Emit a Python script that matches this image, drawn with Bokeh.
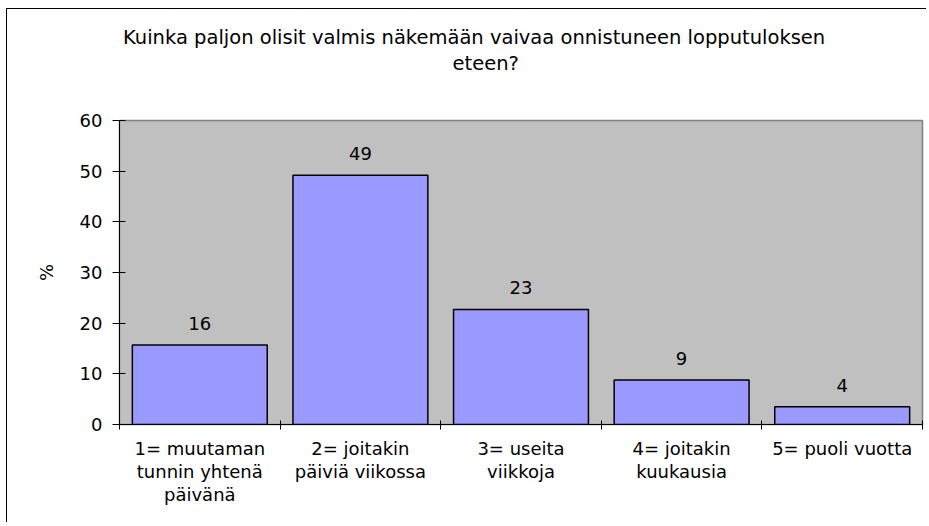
from bokeh.plotting import figure
from bokeh.models import LinearAxis, FixedTicker, Range1d, LabelSet, ColumnDataSource, Title
from bokeh.core.properties import value
from bokeh.embed import file_html
from bokeh.resources import INLINE

title_line1 = "Kuinka paljon olisit valmis näkemään vaivaa onnistuneen lopputuloksen"
title_line2 = "eteen?"
categories = [
    "1= muutaman\ntunnin yhtenä\npäivänä",
    "2= joitakin\npäiviä viikossa",
    "3= useita\nviikkoja",
    "4= joitakin\nkuukausia",
    "5= puoli vuotta",
]
values = [15.7, 49.2, 22.7, 8.8, 3.5]
value_labels = ["16", "49", "23", "9", "4"]
y_ticks = [0, 10, 20, 30, 40, 50, 60]
y_label = "%"

FONT = "DejaVu Sans"
FS = "18px"
TFS = "19.5px"

xpos = [i + 0.5 for i in range(len(categories))]
src = ColumnDataSource(dict(x=xpos, top=values, label=value_labels))

p = figure(
    x_range=Range1d(0, len(categories)),
    y_range=Range1d(y_ticks[0], y_ticks[-1]),
    frame_width=803, frame_height=304,
    min_border_left=112, min_border_top=111, min_border_right=4, min_border_bottom=98,
    x_axis_type=None, y_axis_type=None,
    output_backend="svg", toolbar_location=None,
    background_fill_color="#C0C0C0", border_fill_color="white",
    outline_line_color="#808080", outline_line_width=1.5,
    styles={"border-left": "1px solid black", "border-top": "1px solid black",
            "margin-left": "6px", "margin-top": "8px"},
)

p.title.text = title_line1
p.title.text_font = FONT
p.title.text_font_size = TFS
p.title.text_font_style = "normal"
p.title.text_color = "black"
p.title.align = "left"
p.title.offset = 3.5
p.title.standoff = 2

# spacer between the plot frame and the title lines
p.add_layout(Title(text=" ", standoff=43, text_font_size="1px"), "above")
p.add_layout(Title(text=title_line2, align="left", offset=333, standoff=0,
                   text_font=FONT, text_font_size=TFS, text_font_style="normal",
                   text_color="black"), "above")

yaxis = LinearAxis(
    ticker=FixedTicker(ticks=y_ticks),
    axis_label=y_label, axis_label_text_font=FONT, axis_label_text_font_size=FS,
    axis_label_text_font_style="normal", axis_label_standoff=20,
    axis_label_text_color="black",
    major_label_text_font=FONT, major_label_text_font_size=FS, major_label_standoff=10,
    major_label_text_color="black",
    major_tick_in=6, major_tick_out=7, minor_tick_in=0, minor_tick_out=0,
    axis_line_color="black", major_tick_line_color="black",
)
p.add_layout(yaxis, "left")

xaxis = LinearAxis(
    ticker=FixedTicker(ticks=xpos, minor_ticks=list(range(len(categories) + 1))),
    major_label_overrides={x: c for x, c in zip(xpos, categories)},
    major_tick_in=0, major_tick_out=0, minor_tick_in=4, minor_tick_out=5,
    minor_tick_line_color="black", axis_line_color="black",
    major_label_standoff=8, major_label_text_font=FONT, major_label_text_font_size=FS,
    major_label_text_line_height=1.1, major_label_text_color="black",
)
p.add_layout(xaxis, "below")

p.vbar(x="x", top="top", bottom=0, width=0.84, source=src,
       fill_color="#9999FF", line_color="black", line_width=1.5)

p.add_layout(LabelSet(x="x", y="top", text="label", source=src, y_offset=15,
                      text_align="center", text_baseline="alphabetic",
                      text_font=value(FONT), text_font_size=value(FS), text_color="black"))

open("out.html", "w").write(file_html(p, INLINE))
